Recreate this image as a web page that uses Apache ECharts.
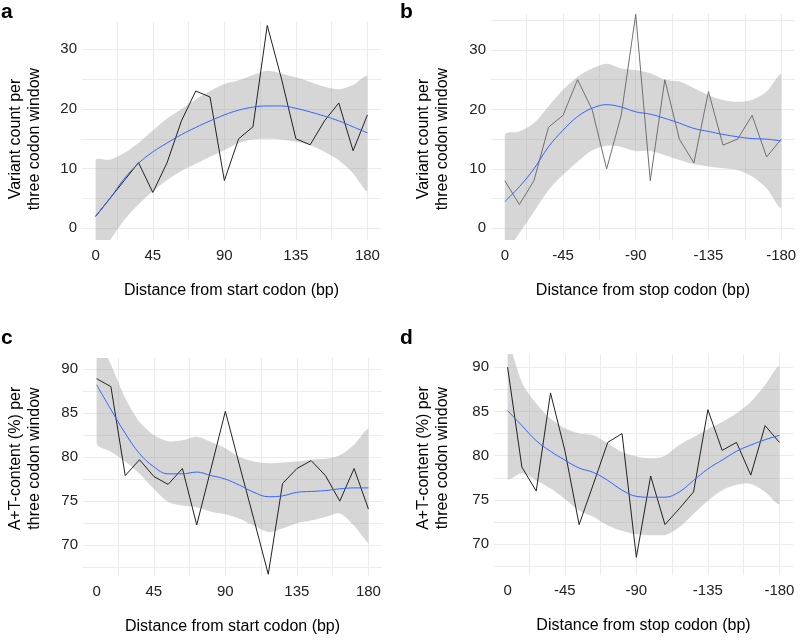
<!DOCTYPE html>
<html>
<head>
<meta charset="utf-8">
<script src="https://cdn.jsdelivr.net/npm/echarts@6/dist/echarts.min.js"></script>
<style>
  html, body { margin: 0; padding: 0; background: #fff; }
  #chart-panel { width: 800px; height: 641px; }
</style>
</head>
<body>
<div id="chart-panel"></div>
<script>
// window positions (bp) of the 20 three-codon windows
var startBp = [9, 18, 27, 36, 45, 54, 63, 72, 81, 90, 99, 108, 117, 126, 135, 144, 153, 162, 171, 180];
var stopBp = [-9, -18, -27, -36, -45, -54, -63, -72, -81, -90, -99, -108, -117, -126, -135, -144, -153, -162, -171, -180];

// tick labels
var startTickVals = [9, 45, 90, 135, 180];
var startTickText = ['0', '45', '90', '135', '180'];
var stopTickVals = [-9, -45, -90, -135, -180];
var stopTickText = ['0', '-45', '-90', '-135', '-180'];
var countTickVals = [0, 10, 20, 30];
var atTickVals = [70, 75, 80, 85, 90];

// grid lines (major + minor)
var startGridVals = [22.5, 45, 67.5, 90, 112.5, 135, 157.5, 180];
var stopGridVals = [-22.5, -45, -67.5, -90, -112.5, -135, -157.5, -180];
var countGridVals = [0, 5, 10, 15, 20, 25, 30, 35];
var atGridVals = [67.5, 70, 72.5, 75, 77.5, 80, 82.5, 85, 87.5, 90];

// a: variant count, start codon
var aCount = [2, 5, 8, 11, 6, 11, 18, 23, 22, 8, 15, 17, 34, 25, 15, 14, 18, 21, 13, 19];
var aFit = [2.0, 5.0, 8.3, 10.9, 12.8, 14.3, 15.7, 16.9, 18.0, 19.0, 19.8, 20.3, 20.5, 20.5, 20.1, 19.5, 18.8, 18.0, 17.0, 16.0];
var aUp = [11.4, 11.5, 12.6, 14.3, 16.4, 18.4, 20.0, 21.6, 23.0, 24.2, 24.8, 25.7, 26.4, 25.9, 25.3, 24.5, 23.7, 23.3, 24.0, 25.4];
var aLo = [-5.5, -2.0, 1.4, 4.0, 6.2, 8.1, 9.6, 10.8, 12.0, 13.1, 14.3, 14.9, 15.0, 14.9, 14.5, 13.9, 12.8, 11.4, 9.2, 6.4];

// b: variant count, stop codon
var bCount = [8, 4, 8, 17, 19, 25, 20, 10, 19, 36, 8, 25, 15, 11, 23, 14, 15, 19, 12, 15];
var bFit = [4.5, 7.0, 10.0, 13.7, 16.5, 18.8, 20.2, 20.8, 20.4, 19.6, 19.2, 18.5, 17.7, 16.8, 16.3, 15.8, 15.4, 15.1, 15.0, 14.7];
var bUp = [15.7, 16.3, 17.7, 20.5, 23.3, 25.5, 26.9, 27.7, 26.9, 26.6, 26.1, 25.0, 24.7, 23.6, 22.4, 21.6, 21.3, 21.6, 23.0, 25.8];
var bLo = [-4.4, -0.8, 2.8, 6.4, 9.0, 11.2, 13.1, 13.9, 13.7, 13.0, 13.0, 12.3, 11.5, 10.8, 10.4, 10.1, 9.8, 8.7, 6.7, 3.6];

// c: A+T content, start codon
var cAT = [88.9, 88.0, 77.9, 79.7, 77.8, 76.9, 78.7, 72.3, 78.7, 85.2, 79.0, 72.9, 66.7, 77.0, 78.7, 79.6, 77.9, 75.0, 78.7, 74.1];
var cFit = [88.2, 85.4, 82.7, 80.4, 78.9, 78.1, 78.1, 78.3, 77.9, 77.5, 76.8, 76.0, 75.5, 75.6, 76.0, 76.1, 76.2, 76.4, 76.5, 76.5];
var cUp = [94.0, 90.5, 86.7, 84.0, 82.5, 81.8, 81.9, 82.3, 81.7, 81.0, 80.0, 79.5, 79.3, 79.4, 79.5, 79.7, 79.8, 80.2, 81.4, 83.1];
var cLo = [81.6, 80.6, 79.5, 78.1, 76.4, 74.9, 74.5, 74.3, 73.8, 73.5, 73.0, 72.2, 71.5, 71.9, 72.5, 72.8, 73.2, 73.6, 72.2, 70.2];

// d: A+T content, stop codon
var dAT = [90.0, 78.7, 76.0, 87.1, 80.6, 72.2, 76.8, 81.5, 82.5, 68.5, 77.7, 72.2, 74.0, 75.9, 85.2, 80.6, 81.5, 77.8, 83.4, 81.5];
var dFit = [85.1, 83.4, 81.7, 80.5, 79.5, 78.6, 78.1, 77.2, 76.1, 75.4, 75.3, 75.3, 75.9, 77.2, 78.5, 79.5, 80.5, 81.2, 81.8, 82.3];
var dUp = [93.3, 88.3, 85.9, 84.2, 83.1, 82.5, 82.3, 81.4, 80.4, 79.9, 79.7, 80.0, 81.2, 82.1, 83.0, 83.8, 84.8, 86.1, 88.0, 90.0];
var dLo = [77.4, 78.0, 77.2, 76.3, 75.1, 73.8, 73.1, 72.1, 71.5, 71.1, 71.0, 71.0, 71.9, 73.4, 74.9, 76.1, 76.7, 76.8, 75.9, 74.6];

var fontFamily = '"Liberation Sans", Arial, Helvetica, sans-serif';

function pairs(xs, ys) {
    return xs.map(function (x, i) { return [x, ys[i]]; });
}

var panels = [
    {
        letter: 'a', letterPos: [1, 2],
        grid: { left: 82, top: 22, width: 299, height: 218 },
        x: startBp, xMin: 0.45, xMax: 188.55, inverse: false,
        xGrid: startGridVals, xTickVals: startTickVals, xTickText: startTickText,
        yMin: -1.96, yMax: 34.57, yGrid: countGridVals, yTickVals: countTickVals,
        raw: aCount, fit: aFit, up: aUp, lo: aLo, rawColor: '#222',
        yName: 'Variant count per\nthree codon window', yGap: 38, yPad: [0, 16, 0, 0],
        xName: 'Distance from start codon (bp)'
    },
    {
        letter: 'b', letterPos: [400, 2],
        grid: { left: 491, top: 14, width: 304, height: 226 },
        x: stopBp, xMin: -188.55, xMax: -0.45, inverse: true,
        xGrid: stopGridVals, xTickVals: stopTickVals, xTickText: stopTickText,
        yMin: -1.97, yMax: 36.06, yGrid: countGridVals, yTickVals: countTickVals,
        raw: bCount, fit: bFit, up: bUp, lo: bLo, rawColor: '#707070',
        yName: 'Variant count per\nthree codon window', yGap: 39, yPad: [0, 24, 0, 0],
        xName: 'Distance from stop codon (bp)'
    },
    {
        letter: 'c', letterPos: [1, 328],
        grid: { left: 83, top: 358, width: 299, height: 218 },
        x: startBp, xMin: 0.45, xMax: 188.55, inverse: false,
        xGrid: startGridVals, xTickVals: startTickVals, xTickText: startTickText,
        yMin: 66.5, yMax: 91.25, yGrid: atGridVals, yTickVals: atTickVals,
        raw: cAT, fit: cFit, up: cUp, lo: cLo, rawColor: '#222',
        yName: 'A+T-content (%) per\nthree codon window', yGap: 39, yPad: [0, 0, 0, 17],
        xName: 'Distance from start codon (bp)'
    },
    {
        letter: 'd', letterPos: [400, 328],
        grid: { left: 494, top: 354, width: 299, height: 221 },
        x: stopBp, xMin: -188.55, xMax: -0.45, inverse: true,
        xGrid: stopGridVals, xTickVals: stopTickVals, xTickText: stopTickText,
        yMin: 66.5, yMax: 91.5, yGrid: atGridVals, yTickVals: atTickVals,
        raw: dAT, fit: dFit, up: dUp, lo: dLo, rawColor: '#222',
        yName: 'A+T-content (%) per\nthree codon window', yGap: 42, yPad: [0, 0, 0, 13],
        xName: 'Distance from stop codon (bp)'
    }
];

var chartOption = {
    backgroundColor: '#fff',
    animation: false,
    textStyle: { fontFamily: fontFamily },
    title: [],
    grid: [],
    xAxis: [],
    yAxis: [],
    series: []
};

panels.forEach(function (p, i) {
    chartOption.title.push({
        text: p.letter,
        left: p.letterPos[0],
        top: p.letterPos[1],
        padding: 0,
        textStyle: { fontSize: 21, fontWeight: 'bold', color: '#000', fontFamily: fontFamily }
    });
    chartOption.grid.push(Object.assign({ containLabel: false }, p.grid));
    chartOption.xAxis.push({
        type: 'value',
        gridIndex: i,
        min: p.xMin,
        max: p.xMax,
        inverse: p.inverse,
        name: p.xName,
        nameLocation: 'middle',
        nameGap: 43,
        nameTextStyle: { fontSize: 16, color: '#000', fontFamily: fontFamily },
        axisLine: { show: false },
        axisTick: { show: false, customValues: p.xGrid },
        axisLabel: {
            customValues: p.xTickVals,
            margin: 8,
            fontSize: 15,
            color: '#222',
            fontFamily: fontFamily,
            formatter: function (v) {
                var k = p.xTickVals.indexOf(v);
                return k >= 0 ? p.xTickText[k] : '';
            }
        },
        splitLine: { show: true, lineStyle: { color: '#ebebeb', width: 1 } }
    });
    chartOption.yAxis.push({
        type: 'value',
        gridIndex: i,
        min: p.yMin,
        max: p.yMax,
        name: p.yName,
        nameLocation: 'middle',
        nameGap: p.yGap,
        nameTextStyle: { fontSize: 16, lineHeight: 19, color: '#000', fontFamily: fontFamily, padding: p.yPad },
        axisLine: { show: false },
        axisTick: { show: false, customValues: p.yGrid },
        axisLabel: {
            customValues: p.yTickVals,
            margin: 5,
            fontSize: 15,
            color: '#222',
            fontFamily: fontFamily
        },
        splitLine: { show: true, lineStyle: { color: '#ebebeb', width: 1 } }
    });

    // confidence band: one polygon, upper edge forward then lower edge back
    chartOption.series.push({
        type: 'custom',
        xAxisIndex: i,
        yAxisIndex: i,
        data: [[p.x[0], p.fit[0]]],
        clip: true,
        silent: true,
        z: 1,
        renderItem: function (params, api) {
            var pts = [];
            p.x.forEach(function (x, k) { pts.push(api.coord([x, p.up[k]])); });
            for (var k = p.x.length - 1; k >= 0; k--) {
                pts.push(api.coord([p.x[k], p.lo[k]]));
            }
            var xs = pts.map(function (q) { return q[0]; });
            var ys = pts.map(function (q) { return q[1]; });
            var box = [
                [Math.min.apply(null, xs), Math.min.apply(null, ys)],
                [Math.max.apply(null, xs), Math.max.apply(null, ys)]
            ];
            return {
                type: 'polygon',
                shape: { points: pts, smooth: 0.3, smoothConstraint: box },
                style: { fill: 'rgba(153,153,153,0.4)', stroke: null }
            };
        }
    });
    chartOption.series.push({
        type: 'line',
        xAxisIndex: i,
        yAxisIndex: i,
        data: pairs(p.x, p.raw),
        symbol: 'none',
        silent: true,
        lineStyle: { color: p.rawColor, width: 1 },
        z: 2
    });
    chartOption.series.push({
        type: 'line',
        xAxisIndex: i,
        yAxisIndex: i,
        data: pairs(p.x, p.fit),
        smooth: 0.4,
        symbol: 'none',
        silent: true,
        lineStyle: { color: '#3366FF', width: 1 },
        z: 3
    });
});

var myChart = echarts.init(document.getElementById('chart-panel'), null, { renderer: 'canvas' });
myChart.setOption(chartOption);
</script>
</body>
</html>
